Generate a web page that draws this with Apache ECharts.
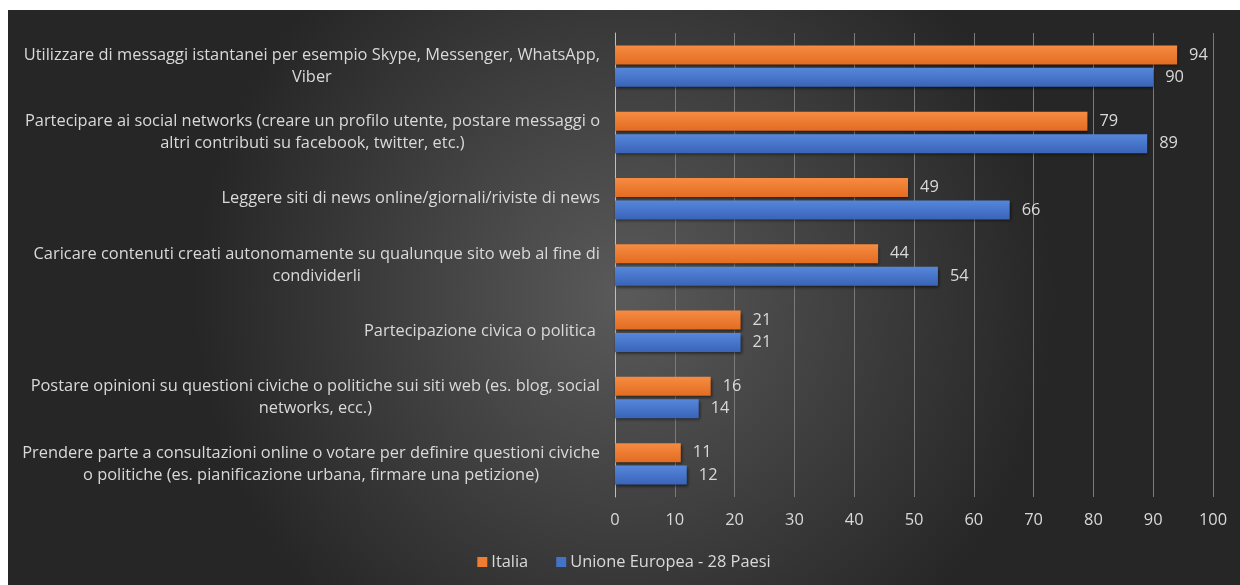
<!DOCTYPE html>
<html>
<head>
<meta charset="utf-8">
<script src="https://cdn.jsdelivr.net/npm/echarts@6/dist/echarts.min.js"></script>
<style>
  html, body { margin: 0; padding: 0; background: #ffffff; }
  #chart { position: absolute; left: 8px; top: 10px; width: 1232px; height: 575px; }
</style>
</head>
<body>
<div id="chart"></div>
<script>
// Attività online: Italia vs media UE28 (% utenti)
const categories = [
  'Utilizzare di messaggi istantanei per esempio Skype, Messenger, WhatsApp,\nViber',
  'Partecipare ai social networks (creare un profilo utente, postare messaggi o\naltri contributi su facebook, twitter, etc.)',
  'Leggere siti di news online/giornali/riviste di news',
  'Caricare contenuti creati autonomamente su qualunque sito web al fine di\ncondividerli',
  'Partecipazione civica o politica ',
  'Postare opinioni su questioni civiche o politiche sui siti web (es. blog, social\nnetworks, ecc.)',
  'Prendere parte a consultazioni online o votare per definire questioni civiche\no politiche (es. pianificazione urbana, firmare una petizione)'
];
const italia = [94, 79, 49, 44, 21, 16, 11];
const ue28 = [90, 89, 66, 54, 21, 14, 12];
const seriesNames = ['Italia', 'Unione Europea - 28 Paesi'];

const FONT = '"Open Sans", sans-serif';
const TEXT = '#d9d9d9';
const FS = 16.4;

function barGradient(top, bottom) {
  return new echarts.graphic.LinearGradient(0, 0, 0, 1, [
    { offset: 0, color: top },
    { offset: 1, color: bottom }
  ]);
}

const chart = echarts.init(document.getElementById('chart'));
chart.setOption({
  backgroundColor: {
    type: 'radial', x: 0.5, y: 0.5, r: 0.75,
    colorStops: [
      { offset: 0, color: '#5a5a5a' },
      { offset: 1, color: '#262626' }
    ]
  },
  textStyle: { fontFamily: FONT },
  legend: {
    bottom: 10,
    left: 'center',
    itemWidth: 10,
    itemHeight: 10,
    itemGap: 28,
    icon: 'rect',
    textStyle: { color: TEXT, fontSize: FS, fontFamily: FONT, padding: [0, 0, 0, -1] },
    data: [
      { name: seriesNames[0], itemStyle: { color: '#ED7D31' } },
      { name: seriesNames[1], itemStyle: { color: '#4472C4' } }
    ]
  },
  grid: { left: 607, right: 27, top: 23, bottom: 88, containLabel: false },
  xAxis: {
    type: 'value',
    min: 0, max: 100, interval: 10,
    axisLine: { show: false },
    axisTick: { show: false },
    splitLine: { show: true, lineStyle: { color: '#7a7a7a', width: 1 } },
    axisLabel: { color: TEXT, fontSize: FS, margin: 15, fontFamily: FONT }
  },
  yAxis: {
    type: 'category',
    inverse: true,
    data: categories,
    axisLine: { show: true, lineStyle: { color: '#bfbfbf', width: 1 } },
    axisTick: { show: false },
    axisLabel: {
      color: TEXT,
      fontSize: FS,
      fontFamily: FONT,
      margin: 15,
      lineHeight: 22,
      formatter: function (v) {
        return v.split('\n').map(function (l) { return '{c|' + l + '}'; }).join('\n');
      },
      rich: { c: { align: 'center', color: TEXT, fontSize: FS, lineHeight: 22, fontFamily: FONT } }
    }
  },
  series: [
    {
      name: seriesNames[0],
      type: 'bar',
      data: italia,
      barWidth: 19,
      barGap: '18%',
      itemStyle: {
        color: barGradient('#F68C42', '#E26C22'),
        shadowColor: 'rgba(0,0,0,0.55)', shadowBlur: 3, shadowOffsetX: 1, shadowOffsetY: 2
      },
      label: { show: true, position: 'right', distance: 12, color: TEXT, fontSize: FS, fontFamily: FONT }
    },
    {
      name: seriesNames[1],
      type: 'bar',
      data: ue28,
      barWidth: 19,
      itemStyle: {
        color: barGradient('#5687DB', '#3964B8'),
        shadowColor: 'rgba(0,0,0,0.55)', shadowBlur: 3, shadowOffsetX: 1, shadowOffsetY: 2
      },
      label: { show: true, position: 'right', distance: 12, color: TEXT, fontSize: FS, fontFamily: FONT }
    }
  ]
});
</script>
</body>
</html>
